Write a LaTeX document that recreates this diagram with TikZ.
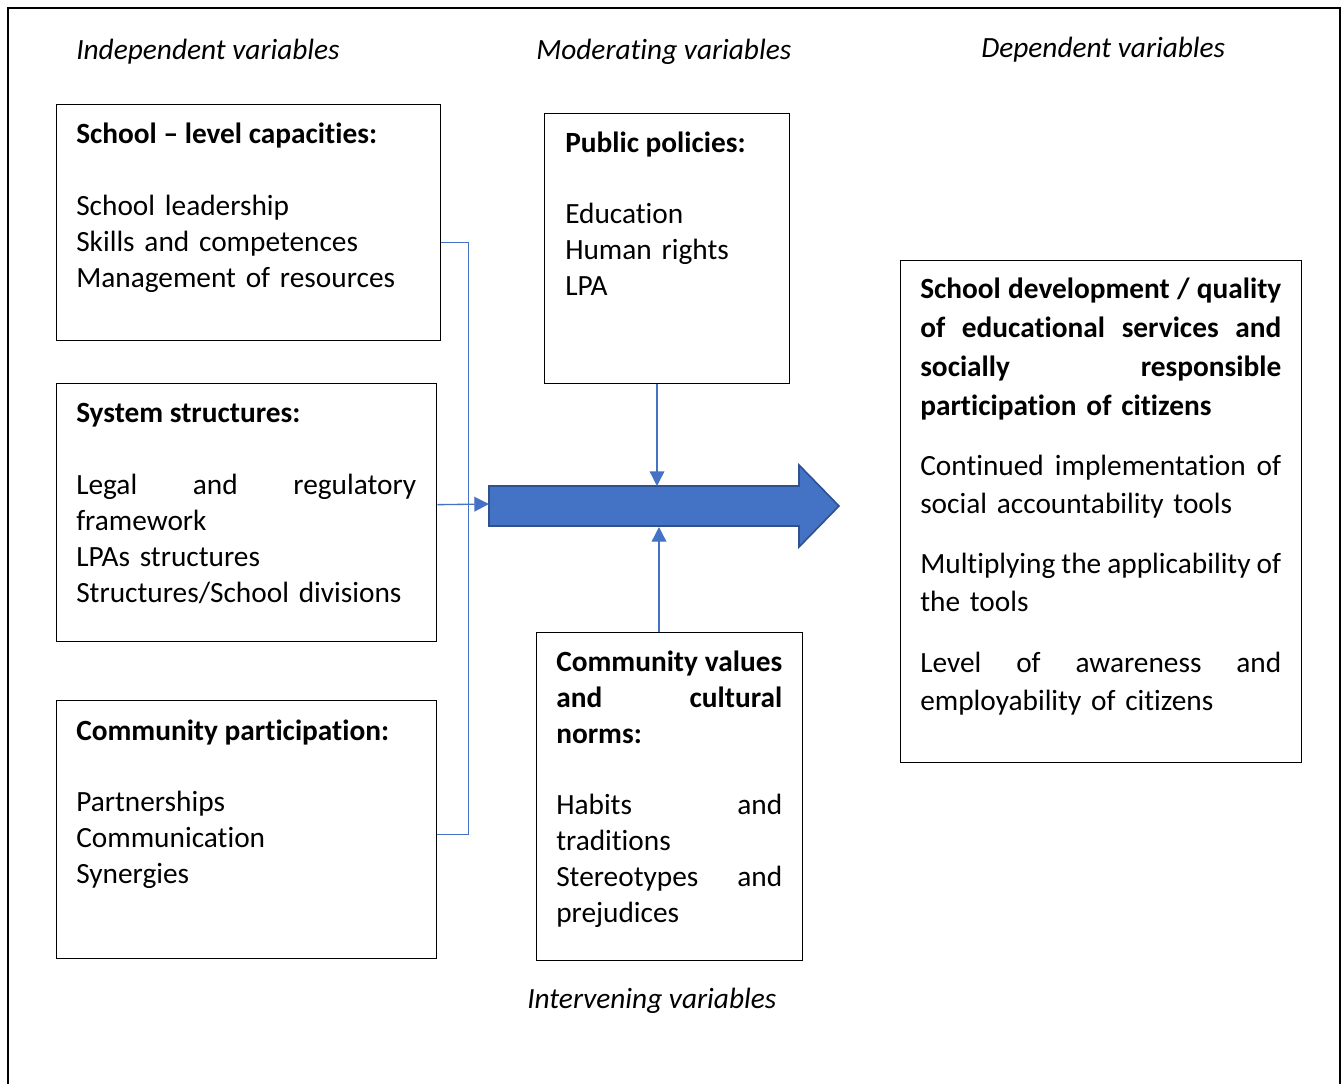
\documentclass[tikz,border=0pt]{standalone}
\usepackage{fontspec}
\setmainfont{Carlito}[Ligatures=NoCommon]
\usetikzlibrary{arrows.meta,calc}
\definecolor{arrowblue}{HTML}{4472C4}
\definecolor{arrowedge}{HTML}{2F528F}
\setlength\parindent{0pt}
\newcommand\narrowspace{\fontdimen2\font=3.1pt\relax}
\begin{document}
\begin{tikzpicture}[x=0.75pt,y=-0.75pt,
  box/.style={draw=black, line width=1pt, inner sep=0pt, anchor=north west},
  txt/.style={anchor=north west, inner sep=0pt, align=left, font=\fontsize{22}{27}\selectfont\narrowspace},
  ttl/.style={anchor=base west, inner sep=0pt, font=\fontsize{22}{27}\selectfont\bfseries},
  lab/.style={anchor=base west, inner sep=0pt, font=\fontsize{22}{27}\selectfont\itshape},
  link/.style={draw=arrowblue, line width=1pt},
  tip/.style={link, -{Triangle[length=11pt,width=11pt]}}
]
\useasboundingbox (0,0) rectangle (1341,1084);
\draw[line width=1.5pt] (8,1100) -- (8,8) -- (1339.5,8) -- (1339.5,1100);

% column labels
\node[lab] (lind) at (76,59.5) {Independent variables};
\node[lab] (lmod) at (536,59.5) {Moderating variables};
\node[lab] (ldep) at (981,57.5) {Dependent variables};
\node[lab] (lint) at (527,1008) {Intervening variables};

% boxes
\node[box, minimum width=288pt, minimum height=177pt] (b1) at (56,104) {};
\node[box, minimum width=285pt, minimum height=193.5pt] (b2) at (56,383) {};
\node[box, minimum width=285pt, minimum height=193.5pt] (b3) at (56,700) {};
\node[box, minimum width=183.75pt, minimum height=202.5pt] (b4) at (544,113) {};
\node[box, minimum width=199.5pt, minimum height=246pt] (b5) at (536,632) {};
\node[box, minimum width=300.75pt, minimum height=376.5pt] (b6) at (900,260) {};

% box texts
\node[ttl] (t1) at (76,144) {School \textendash{} level capacities:};
\node[txt, text width=258pt] (d1) at (76,189.8) {\strut School leadership\\Skills and competences\\Management of resources};

\node[ttl] (t2) at (76,422.5) {System structures:};
\node[txt, text width=255pt] (d2) at (76,468.8) {\strut Legal\hfill and\hfill regulatory\\framework\\LPAs structures\\Structures/School divisions};

\node[ttl] (t3) at (76,740) {Community participation:};
\node[txt, text width=255pt] (d3) at (76,785.8) {\strut Partnerships\\Communication\\Synergies};

\node[ttl] (t4) at (565,152.5) {Public policies:};
\node[txt, text width=153pt] (d4) at (565,198.3) {\strut Education\\Human rights\\LPA};

\node[txt, text width=169.5pt, font=\fontsize{22}{27}\selectfont\bfseries] (t5) at (556,645.8) {\strut Community\hfill values\\and\hfill cultural\\norms:};
\node[txt, text width=169.5pt] (d5) at (556,788.8) {\strut Habits\hfill and\\traditions\\Stereotypes\hfill and\\prejudices};

\node[txt, text width=270.75pt, font=\fontsize{22}{29.25}\selectfont\bfseries] (t6) at (920,270.7) {\strut School\hfill development\hfill /\hfill quality\\of\hfill educational\hfill services\hfill and\\socially\hfill responsible\\participation of citizens};
\node[txt, text width=270.75pt, font=\fontsize{22}{28.5}\selectfont\narrowspace] (d6a) at (920,448.4) {\strut Continued\hfill implementation\hfill of\\social accountability tools};
\node[txt, text width=270.75pt, font=\fontsize{22}{28.5}\selectfont\narrowspace] (d6b) at (920,546.4) {\strut Multiplying\hfill the\hfill applicability\hfill of\\the tools};
\node[txt, text width=270.75pt, font=\fontsize{22}{28.5}\selectfont\narrowspace] (d6c) at (920,645.4) {\strut Level\hfill of\hfill awareness\hfill and\\employability of citizens};

% big arrow
\coordinate (arrL) at (489,504);
\coordinate (arrT) at (657,486);
\coordinate (arrB) at (659,527);
\filldraw[fill=arrowblue, draw=arrowedge, line width=1.2pt, line join=miter]
  (489,486) -- (799,486) -- (799,465) -- (839,506) -- (799,547) -- (799,526) -- (489,526) -- cycle;

% connectors
\draw[link] ($(b1.east)+(0,20)$) -| ($(b3.east)+(31,5)$) -- ($(b3.east)+(0,5)$);
\draw[tip] ($(b2.east)+(0,-8)$) -- (arrL);
\draw[tip] (b4.south -| arrT) -- (arrT);
\draw[tip] (b5.north -| arrB) -- (arrB);
\end{tikzpicture}
\end{document}
